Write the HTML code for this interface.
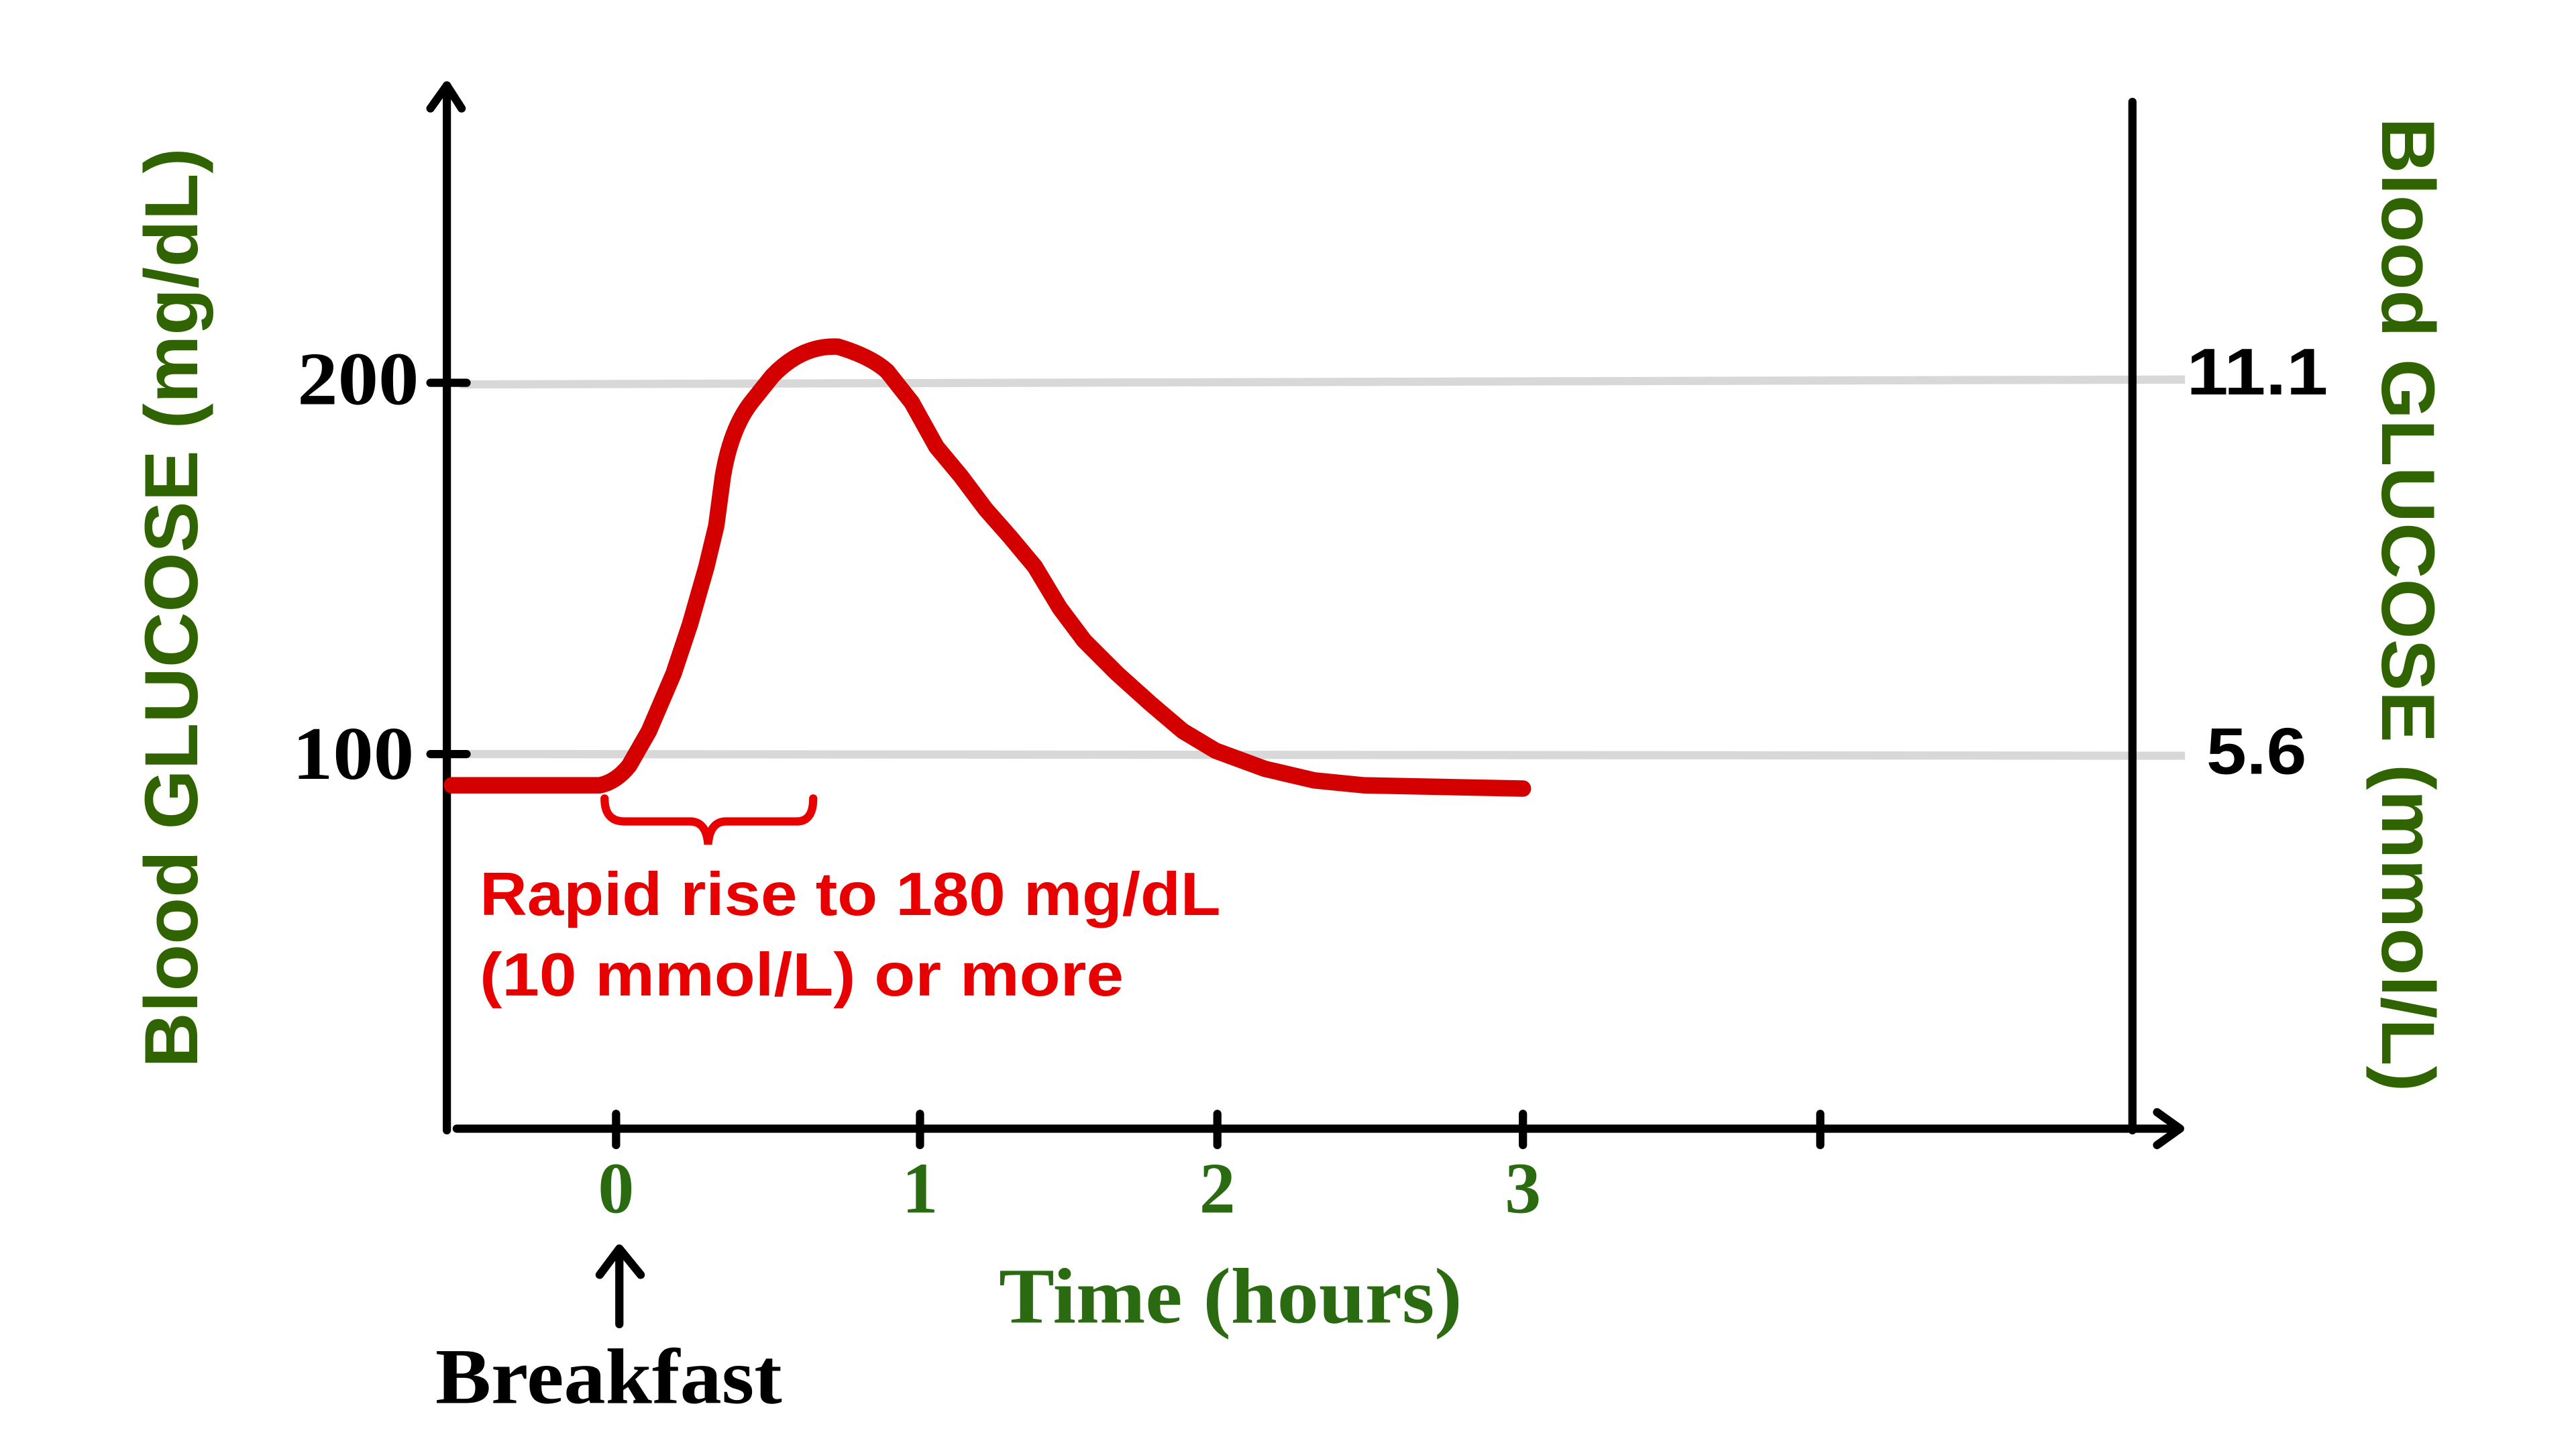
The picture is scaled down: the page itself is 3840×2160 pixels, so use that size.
<!DOCTYPE html>
<html><head><style>html,body{margin:0;padding:0;background:#fff}svg{display:block}</style></head>
<body>
<svg width="3840" height="2160" viewBox="0 0 1568 882" xmlns="http://www.w3.org/2000/svg">
<rect width="1568" height="882" fill="#fff"/>
<line x1="280" y1="234" x2="1330" y2="231" stroke="#d8d8d8" stroke-width="5"/>
<line x1="280" y1="459" x2="1330" y2="460" stroke="#d8d8d8" stroke-width="5"/>
<g stroke="#000" stroke-width="5" fill="none" stroke-linecap="round" stroke-linejoin="round">
<line x1="272" y1="52" x2="272" y2="688"/>
<polyline points="262,66 272,52 281,66"/>
<line x1="1298" y1="62" x2="1298" y2="688"/>
<line x1="278" y1="687" x2="1325" y2="687"/>
<polyline points="1313,677 1327,687 1313,697"/>
<line x1="262" y1="233" x2="284" y2="233"/>
<line x1="262" y1="459" x2="284" y2="459"/>
<line x1="375" y1="678" x2="375" y2="697"/>
<line x1="560" y1="678" x2="560" y2="697"/>
<line x1="741" y1="678" x2="741" y2="697"/>
<line x1="927" y1="678" x2="927" y2="697"/>
<line x1="1108" y1="678" x2="1108" y2="697"/>
<line x1="377" y1="806" x2="377" y2="762"/>
<polyline points="365,776 377,760 390,776"/>
</g>
<path d="M275,478 L365,478 Q375,476 383,466 L395,445 L410,410 L420,380 L430,345 L436,320 L440,290 Q445,260 458,244 L470,229 Q488,210 510,211 Q530,217 540,226 L555,245 L570,272 L585,290 L600,310 L615,327 L630,345 L645,370 L660,390 L680,410 L700,428 L720,445 L740,457 L770,468 L800,475 L830,478 L927,480" fill="none" stroke="#d40000" stroke-width="10" stroke-linejoin="round" stroke-linecap="round"/>
<path d="M368,486 Q368,500 380,500 L420,500 Q430,500 431,514 Q432,500 442,500 L485,500 Q495,500 495,486" fill="none" stroke="#e80000" stroke-width="5" stroke-linecap="round"/>
<g font-family="Liberation Sans, sans-serif" font-weight="bold">
<text x="292" y="557" font-size="37" fill="#e80000" textLength="451" lengthAdjust="spacingAndGlyphs">Rapid rise to 180 mg/dL</text>
<text x="292" y="606" font-size="37" fill="#e80000" textLength="392" lengthAdjust="spacingAndGlyphs">(10 mmol/L) or more</text>
<text x="1331" y="240" font-size="40" fill="#000" textLength="86" lengthAdjust="spacingAndGlyphs">11.1</text>
<text x="1343" y="471" font-size="40" fill="#000" textLength="61" lengthAdjust="spacingAndGlyphs">5.6</text>
<text transform="translate(120,370) rotate(-90)" font-size="46" fill="#2f6400" text-anchor="middle" textLength="560" lengthAdjust="spacingAndGlyphs">Blood GLUCOSE (mg/dL)</text>
<text transform="translate(1450,368) rotate(90)" font-size="46" fill="#2f6400" text-anchor="middle" textLength="593" lengthAdjust="spacingAndGlyphs">Blood GLUCOSE (mmol/L)</text>
</g>
<g font-family="Liberation Serif, serif" font-weight="bold">
<text x="181" y="246" font-size="46" fill="#000" textLength="74" lengthAdjust="spacingAndGlyphs">200</text>
<text x="178" y="474" font-size="46" fill="#000" textLength="74" lengthAdjust="spacingAndGlyphs">100</text>
<text x="375" y="738" font-size="44" fill="#2a6a10" text-anchor="middle">0</text>
<text x="560" y="738" font-size="44" fill="#2a6a10" text-anchor="middle">1</text>
<text x="741" y="738" font-size="44" fill="#2a6a10" text-anchor="middle">2</text>
<text x="927" y="738" font-size="44" fill="#2a6a10" text-anchor="middle">3</text>
<text x="608" y="805" font-size="48" fill="#2a6a10" textLength="282" lengthAdjust="spacingAndGlyphs">Time (hours)</text>
<text x="265" y="854" font-size="48" fill="#000" textLength="211" lengthAdjust="spacingAndGlyphs">Breakfast</text>
</g>
</svg>
</body></html>
